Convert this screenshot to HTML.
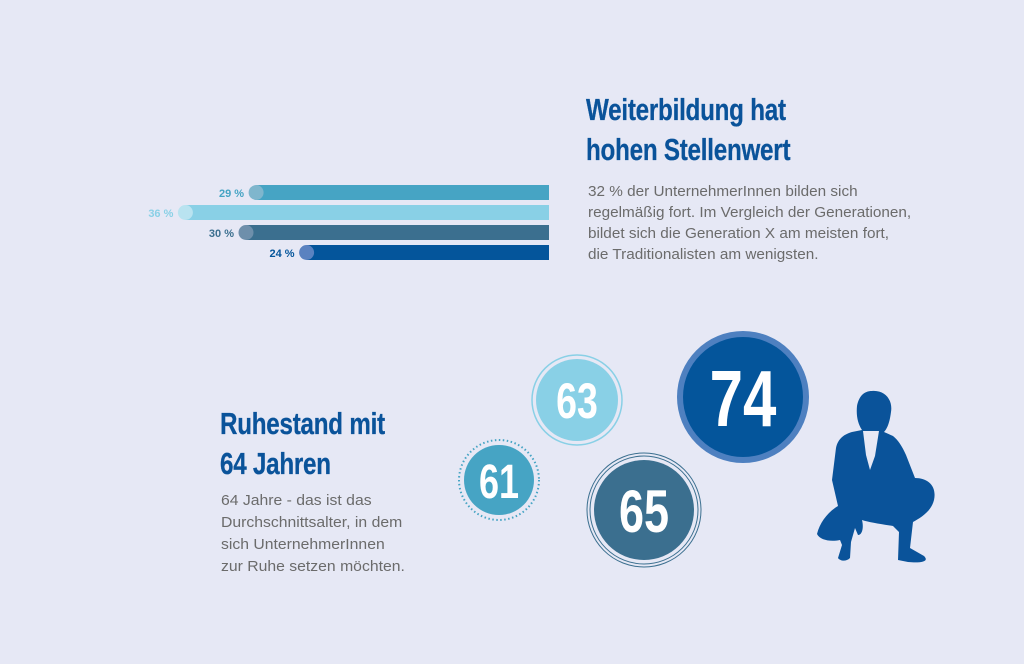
<!DOCTYPE html>
<html><head><meta charset="utf-8">
<style>
html,body{margin:0;padding:0;}
body{width:1024px;height:664px;background:#e6e8f5;position:relative;overflow:hidden;font-family:"Liberation Sans",sans-serif;}
.title{position:absolute;color:#0a539a;font-family:"Liberation Sans Narrow","Liberation Sans",sans-serif;font-weight:bold;font-size:31px;line-height:40px;letter-spacing:-0.3px;transform:scaleX(0.78);transform-origin:0 0;white-space:nowrap;margin:0;-webkit-text-stroke:0.3px #0a539a;}
.body{position:absolute;color:#6b6b6b;font-size:15px;line-height:21px;white-space:nowrap;margin:0;transform:scaleX(1.02);transform-origin:0 0;}
</style></head>
<body>
<h1 class="title" style="left:586px;top:90px;">Weiterbildung hat<br>hohen Stellenwert</h1>
<p class="body" style="left:588px;top:181px;">32 % der UnternehmerInnen bilden sich<br>regelmäßig fort. Im Vergleich der Generationen,<br>bildet sich die Generation X am meisten fort,<br>die Traditionalisten am wenigsten.</p>
<h2 class="title" style="left:220px;top:404px;">Ruhestand mit<br>64 Jahren</h2>
<p class="body" style="left:221px;top:490px;line-height:22px;transform:scaleX(1.05);">64 Jahre - das ist das<br>Durchschnittsalter, in dem<br>sich UnternehmerInnen<br>zur Ruhe setzen möchten.</p>

<svg id="chart" width="1024" height="664" style="position:absolute;left:0;top:0;"></svg>

<svg width="1024" height="664" style="position:absolute;left:0;top:0;font-family:'Liberation Sans Narrow','Liberation Sans',sans-serif;font-weight:bold;">
  <g>
    <circle cx="577" cy="400" r="45" fill="none" stroke="#89d0e6" stroke-width="1.5"/>
    <circle cx="577" cy="400" r="41" fill="#89d0e6"/>
    <text x="577" y="418" text-anchor="middle" fill="#fff" font-size="50" transform="translate(577 0) scale(0.75 1) translate(-577 0)">63</text>
  </g>
  <g>
    <circle cx="743" cy="397" r="66" fill="#4e80c0"/>
    <circle cx="743" cy="397" r="60" fill="#04559b"/>
    <text x="743" y="426" text-anchor="middle" fill="#fff" font-size="80" transform="translate(743 0) scale(0.75 1) translate(-743 0)">74</text>
  </g>
  <g>
    <circle cx="499" cy="480" r="40" fill="none" stroke="#46a4c4" stroke-width="2" stroke-dasharray="1.5 2.5"/>
    <circle cx="499" cy="480" r="35" fill="#46a4c4"/>
    <text x="499" y="498" text-anchor="middle" fill="#fff" font-size="48" transform="translate(499 0) scale(0.75 1) translate(-499 0)">61</text>
  </g>
  <g>
    <circle cx="644" cy="510" r="57" fill="none" stroke="#3b6f8f" stroke-width="1"/>
    <circle cx="644" cy="510" r="54" fill="none" stroke="#3b6f8f" stroke-width="1"/>
    <circle cx="644" cy="510" r="50" fill="#3b6f8f"/>
    <text x="644" y="532" text-anchor="middle" fill="#fff" font-size="60" transform="translate(644 0) scale(0.75 1) translate(-644 0)">65</text>
  </g>
  <g>
  <path fill="#0a539a" d="M872 391 C885 390 893 400 891 412 C890 420 888 428 884 432 L893 436 C898 440 902 446 906 455 L915 478 C928 478 937 486 934 500 C931 512 920 518 913 522 L910 548 L924 556 C930 562 920 563 908 562 L898 560 L899 532 L893 526 C880 524 868 522 862 520 C864 528 862 535 858 535 L855 528 L851 542 L850 558 C846 562 840 561 838 558 L842 545 L840 540 C830 542 820 540 817 534 C820 522 828 512 838 506 L832 480 L836 448 C838 438 845 434 852 432 L862 430 C858 424 856 416 857 406 C859 396 864 391 872 391 Z"/>
  <path fill="#e6e8f5" d="M863 431 L879 431 L875 456 L870 470 L866 455 Z"/>
  </g>
</svg>

<script>
const categories = ["Generation A", "Generation B", "Generation C", "Generation D"];
const values = [29, 36, 30, 24];
const labels = ["29 %", "36 %", "30 %", "24 %"];
const barColors = ["#46a4c4", "#89d0e6", "#3b6f8f", "#04559b"];
const knobColors = ["#7fb6cd", "#b9e3f0", "#6e8fab", "#5a82c0"];
const labelColors = ["#46a4c4", "#89d0e6", "#3b6f8f", "#04559b"];

const NS = "http://www.w3.org/2000/svg";
const svg = document.getElementById("chart");
const xRight = 549, pxPerPct = 10.1;
function xScale(v){ return xRight - v * pxPerPct; }
function yScale(i){ return 185 + i * 20; }
const barH = 15;

values.forEach((v, i) => {
  const x = xScale(v), y = yScale(i);
  const g = document.createElementNS(NS, "g");
  
  
  const r = document.createElementNS(NS, "rect");
  r.setAttribute("x", x); r.setAttribute("y", y);
  r.setAttribute("width", xRight - x); r.setAttribute("height", barH);
  r.setAttribute("fill", barColors[i]);
  
  
  g.appendChild(r);
  const c = document.createElementNS(NS, "circle");
  c.setAttribute("cx", x); c.setAttribute("cy", y + barH / 2); c.setAttribute("r", barH / 2);
  c.setAttribute("fill", knobColors[i]);
  
  
  g.appendChild(c);
  const t = document.createElementNS(NS, "text");
  t.setAttribute("x", x - 12); t.setAttribute("y", y + 12);
  t.setAttribute("text-anchor", "end");
  t.setAttribute("fill", labelColors[i]);
  t.setAttribute("font-size", "11");
  t.setAttribute("font-weight", "bold");
  t.setAttribute("font-family", "'Liberation Sans Narrow','Liberation Sans',sans-serif");
  t.textContent = labels[i];
  
  
  g.appendChild(t);
  svg.appendChild(g);
});
</script>
</body></html>
